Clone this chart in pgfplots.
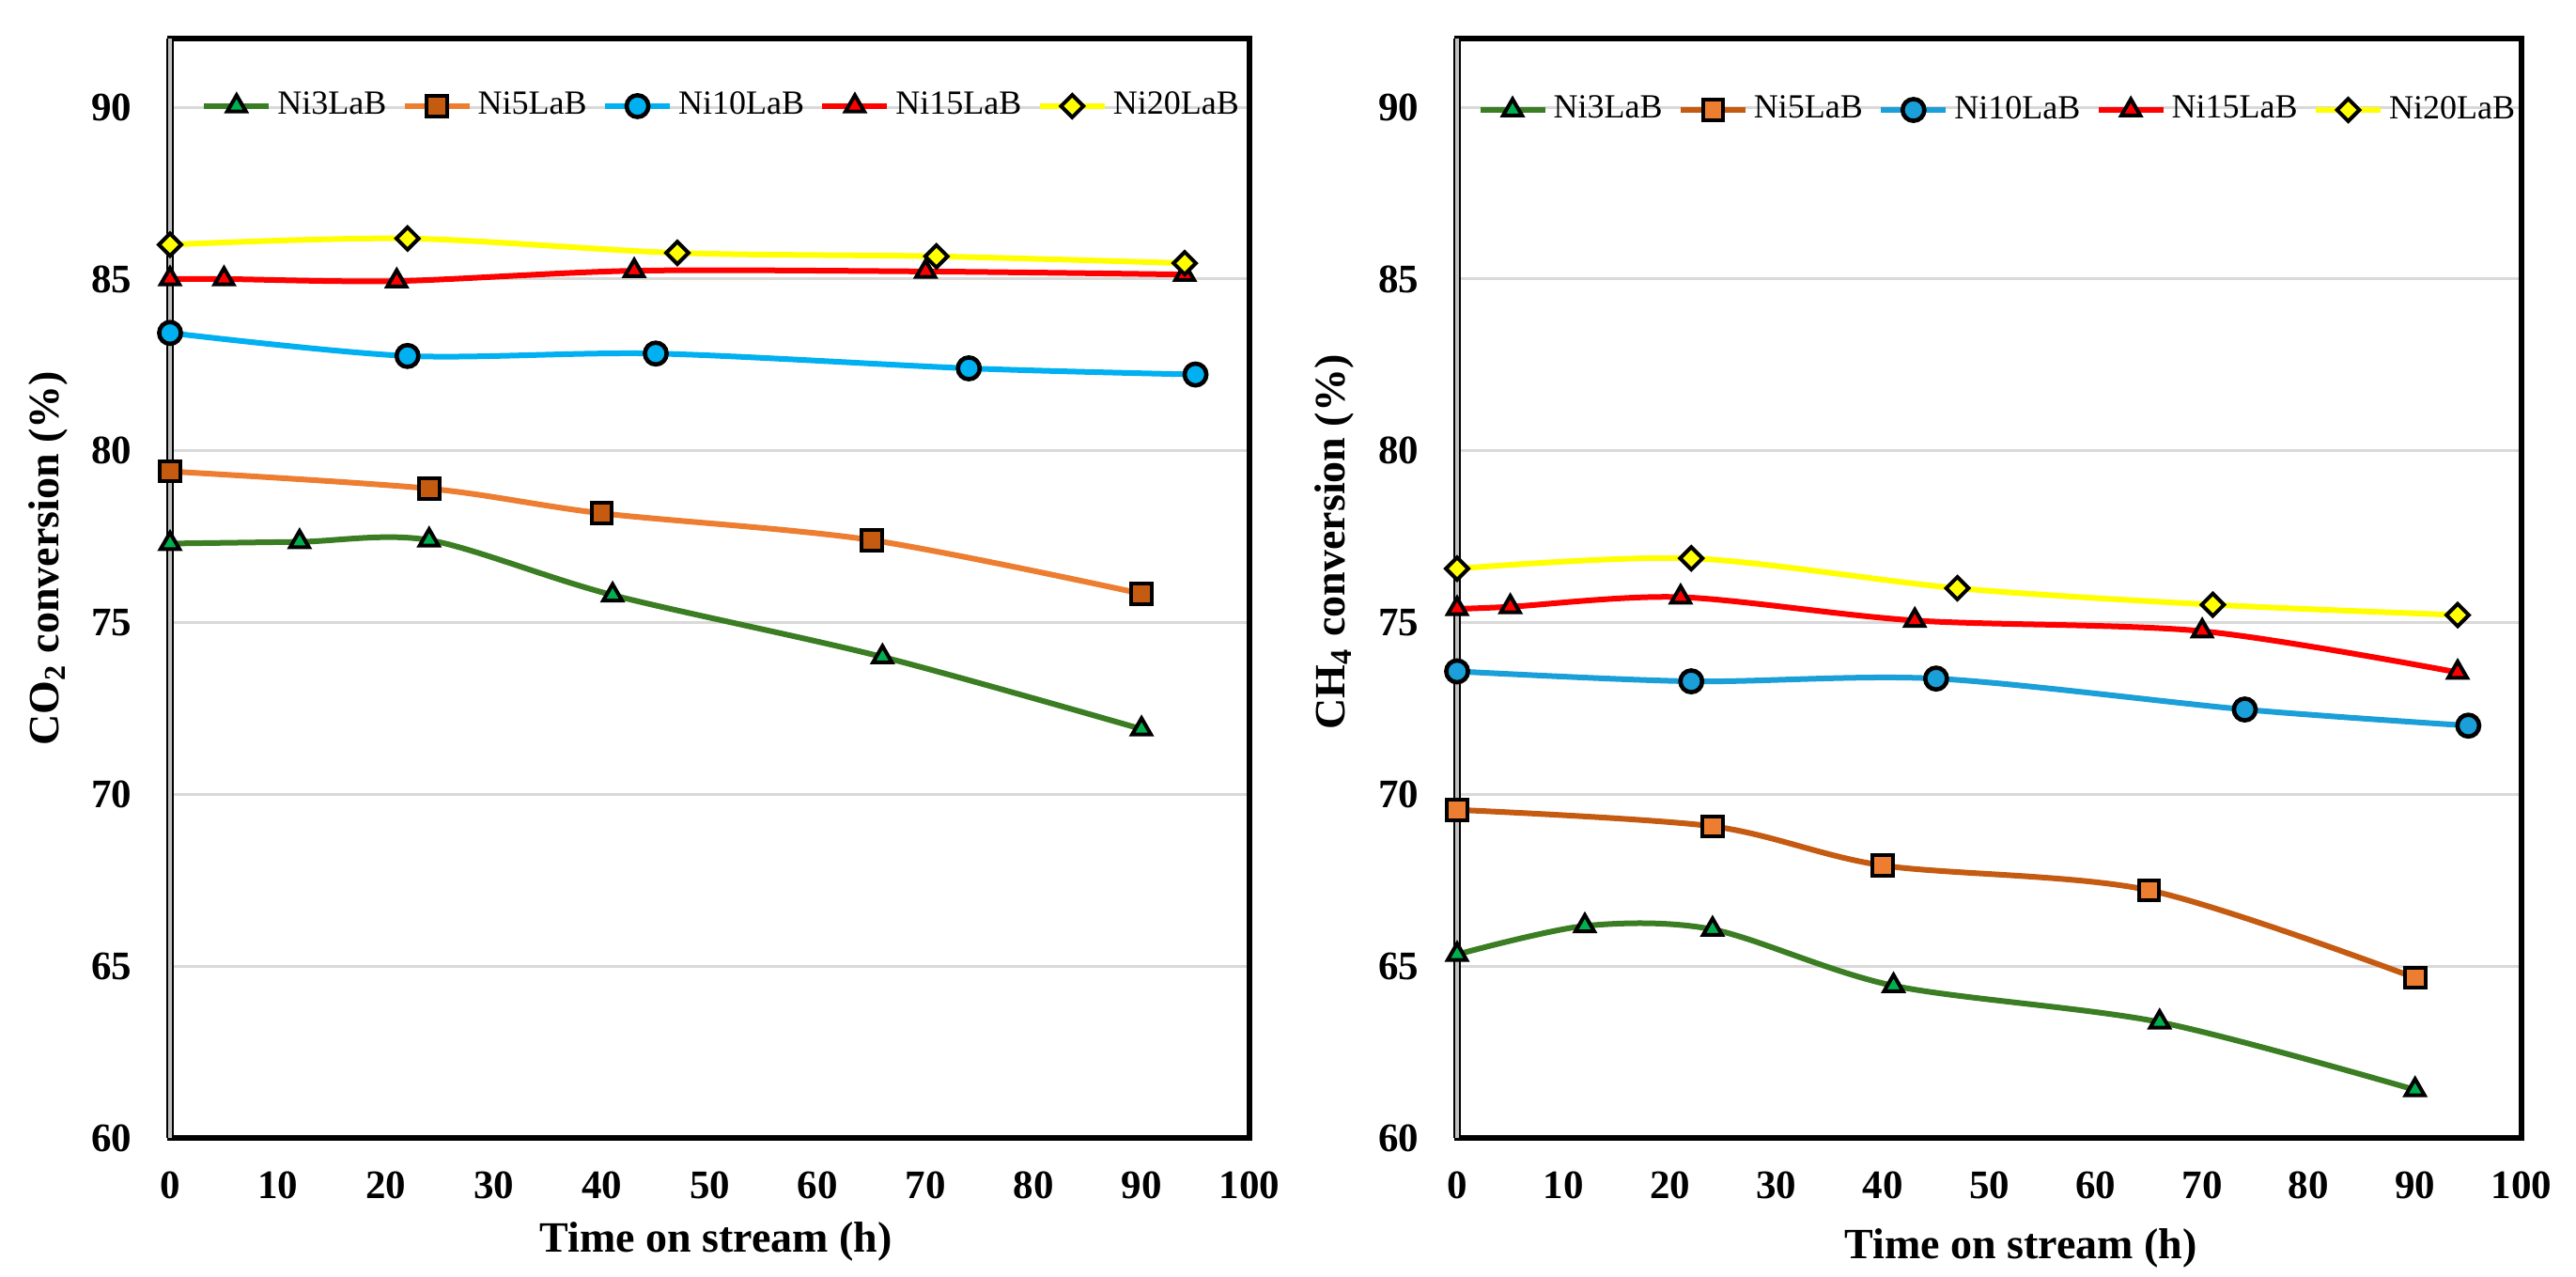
\documentclass[border=0pt]{standalone}
\usepackage{fontspec}
\setmainfont{Liberation Serif}
\usepackage{pgfplots}
\pgfplotsset{compat=1.18}
\definecolor{gline}{HTML}{3B7D23}
\definecolor{gfill}{HTML}{00B050}
\definecolor{olight}{HTML}{ED7D31}
\definecolor{odark}{HTML}{C55A11}
\definecolor{bL}{HTML}{00B0F0}
\definecolor{bR}{HTML}{1A9FD8}
\definecolor{rr}{HTML}{FF0000}
\definecolor{yy}{HTML}{FFFF00}
\definecolor{gridgray}{HTML}{D9D9D9}
\definecolor{axgray}{HTML}{C0C0C0}
\tikzset{mk/.style={draw=black, line width=1pt, solid, fill=#1}}
\pgfplotsset{
  panel/.style={
    scale only axis, width=#1, height=292.5pt, clip=false,
    xmin=0, xmax=100, ymin=60, ymax=92,
    xtick={0,10,...,100}, ytick={60,65,...,90},
    major tick length=0pt,
    ymajorgrids, grid style={draw=gridgray, line width=0.75pt},
    axis line style={draw=none},
    /pgf/number format/assume math mode=true,
    xticklabel style={font=\fontsize{10.75}{12}\selectfont\bfseries, yshift=-5.4pt},
    yticklabel style={font=\fontsize{10.75}{12}\selectfont\bfseries, xshift=-6.7pt},
    legend columns=-1,
    legend style={draw=none, fill=none, inner sep=0pt, outer sep=0pt,
      font=\fontsize{9}{10}\selectfont, nodes={inner sep=0pt},
      /tikz/every odd column/.append style={column sep=1.5pt},
      /tikz/every even column/.append style={column sep=4.1pt}},
    legend image code/.code={\draw[mark repeat=2,mark phase=2,##1] plot coordinates {(0pt,0pt) (8.625pt,0pt) (17.25pt,0pt)};},
  },
  ln/.style={line width=1.5pt, smooth},
  s3/.style={ln, color=gline, mark=triangle*, mark size=2.9pt, mark options={mk=gfill}},
  s5L/.style={ln, color=olight, mark=square*, mark size=2.7pt, mark options={mk=odark}},
  s5R/.style={ln, color=odark, mark=square*, mark size=2.7pt, mark options={mk=olight}},
  s10L/.style={ln, color=bL, mark=*, mark size=2.9pt, mark options={mk=bL, line width=1.15pt}},
  s10R/.style={ln, color=bR, mark=*, mark size=2.9pt, mark options={mk=bR, line width=1.15pt}},
  s15/.style={ln, color=rr, mark=triangle*, mark size=2.9pt, mark options={mk=rr}},
  s20/.style={ln, color=yy, mark=square*, mark size=2.1pt, mark options={mk=yy, rotate=45}},
}
\newcommand{\frameaxis}{%
  \draw[black, line width=1.6pt, line cap=rect, line join=miter] (rel axis cs:0,0) -- (rel axis cs:1,0) -- (rel axis cs:1,1) -- (rel axis cs:0,1);
  \draw[black, line width=1.9pt] (rel axis cs:0,0) -- (rel axis cs:0,1);
  \draw[axgray, line width=0.8pt] (rel axis cs:0,0) -- (rel axis cs:0,1);
}
\begin{document}
\begin{tikzpicture}
\path[use as bounding box] (0,0) rectangle (685.5pt,339.75pt);
% ---------- left panel: CO2 ----------
\begin{axis}[panel=287.25pt, at={(45.25pt,37pt)}, anchor=south west,
  xlabel={\bfseries Time on stream (h)},
  xlabel style={font=\fontsize{11.5}{13}\selectfont, at={(axis description cs:0.5057,-0.094)}, anchor=center},
  ylabel={\bfseries CO\textsubscript{2} conversion (\%)},
  ylabel style={font=\fontsize{11.5}{13}\selectfont, at={(axis description cs:-0.1131,0.527)}, anchor=center},
  legend style={at={(axis description cs:0.029,0.9385)}, anchor=west},
]
\frameaxis
\addplot[s3] coordinates {(0,77.3) (12,77.35) (24,77.4) (41,75.8) (66,74.0) (90,71.9)};
\addlegendentry{Ni3LaB}
\addplot[s5L] coordinates {(0,79.4) (24,78.9) (40,78.18) (65,77.4) (90,75.84)};
\addlegendentry{Ni5LaB}
\addplot[s10L] coordinates {(0,83.43) (22,82.76) (45,82.83) (74,82.4) (95,82.22)};
\addlegendentry{Ni10LaB}
\addplot[s15] coordinates {(0,85.0) (5,85.0) (21,84.94) (43,85.24) (70,85.22) (94,85.13)};
\addlegendentry{Ni15LaB}
\addplot[s20] coordinates {(0,86.0) (22,86.18) (47,85.76) (71,85.66) (94,85.46)};
\addlegendentry{Ni20LaB}
\end{axis}
% ---------- right panel: CH4 ----------
\begin{axis}[panel=283.25pt, at={(387.75pt,37pt)}, anchor=south west,
  xlabel={\bfseries Time on stream (h)},
  xlabel style={font=\fontsize{11.5}{13}\selectfont, at={(axis description cs:0.5296,-0.1)}, anchor=center},
  ylabel={\bfseries CH\textsubscript{4} conversion (\%)},
  ylabel style={font=\fontsize{11.5}{13}\selectfont, at={(axis description cs:-0.1156,0.542)}, anchor=center},
  legend style={at={(axis description cs:0.019,0.935)}, anchor=west},
]
\frameaxis
\addplot[s3] coordinates {(0,65.34) (12,66.17) (24,66.07) (41,64.43) (66,63.37) (90,61.4)};
\addlegendentry{Ni3LaB}
\addplot[s5R] coordinates {(0,69.55) (24,69.07) (40,67.93) (65,67.21) (90,64.66)};
\addlegendentry{Ni5LaB}
\addplot[s10R] coordinates {(0,73.58) (22,73.29) (45,73.37) (74,72.47) (95,72.0)};
\addlegendentry{Ni10LaB}
\addplot[s15] coordinates {(0,75.4) (5,75.46) (21,75.74) (43,75.06) (70,74.75) (94,73.55)};
\addlegendentry{Ni15LaB}
\addplot[s20] coordinates {(0,76.57) (22,76.87) (47,76.0) (71,75.52) (94,75.22)};
\addlegendentry{Ni20LaB}
\end{axis}
\end{tikzpicture}
\end{document}
